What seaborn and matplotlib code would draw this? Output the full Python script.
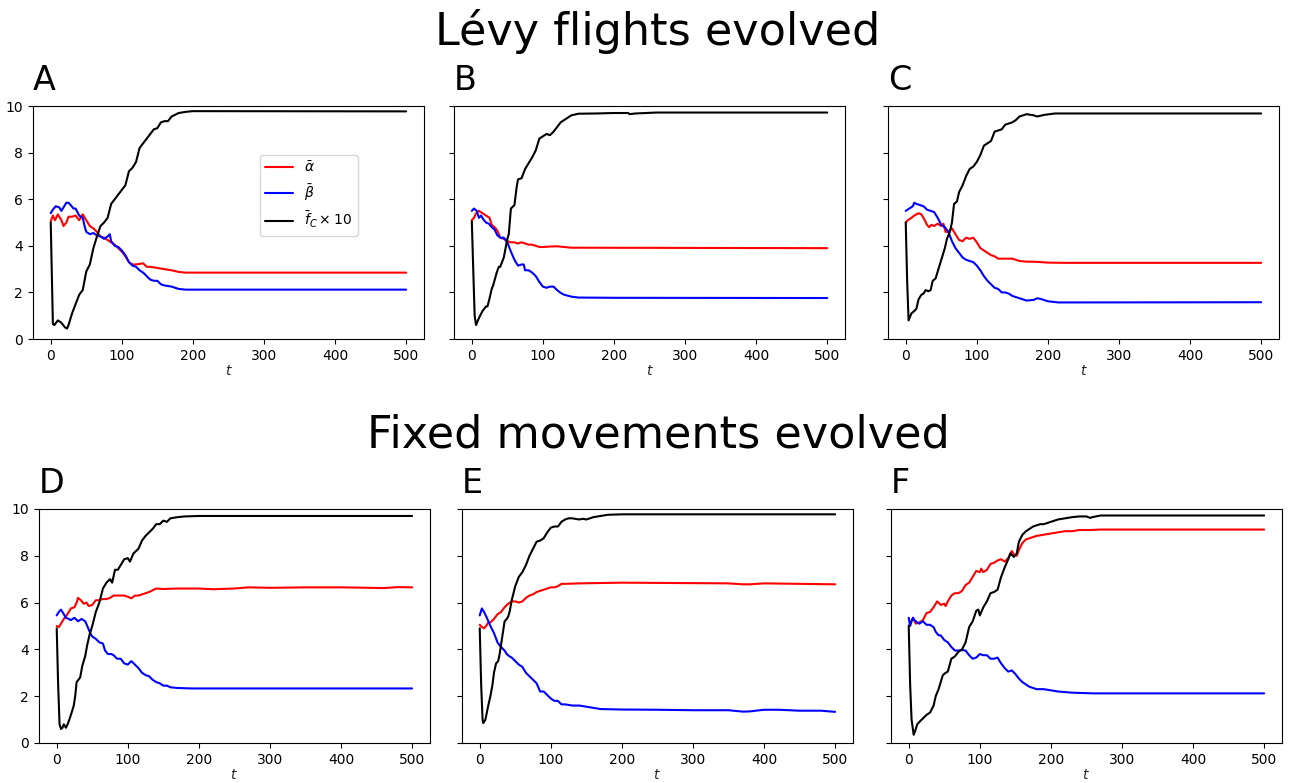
import matplotlib.pyplot as plt
import seaborn as sns

# ---- dados (t, valor) ----
# Painel A
A_alpha_t = [0, 3, 6, 10, 15, 18, 22, 25, 30, 35, 40, 45, 50, 55, 60, 65, 70, 75, 80, 85, 90, 95, 100, 105, 110, 115, 120, 130, 135, 140, 150, 160, 170, 180, 190, 500]
A_alpha = [5.05, 5.3, 5.1, 5.35, 5.1, 4.85, 5.0, 5.25, 5.25, 5.3, 5.1, 5.35, 5.1, 4.85, 4.75, 4.6, 4.4, 4.35, 4.25, 4.15, 4.05, 3.9, 3.75, 3.55, 3.3, 3.2, 3.2, 3.25, 3.1, 3.1, 3.05, 3.0, 2.95, 2.88, 2.85, 2.85]
A_beta_t = [0, 3, 7, 12, 15, 18, 22, 25, 28, 32, 35, 40, 45, 48, 50, 55, 60, 65, 70, 75, 80, 83, 85, 90, 95, 100, 105, 110, 115, 120, 125, 130, 135, 140, 145, 150, 155, 160, 170, 180, 190, 500]
A_beta = [5.4, 5.55, 5.7, 5.65, 5.5, 5.65, 5.85, 5.85, 5.75, 5.6, 5.6, 5.3, 5.2, 4.8, 4.6, 4.5, 4.55, 4.45, 4.4, 4.3, 4.4, 4.5, 4.2, 4.0, 3.95, 3.8, 3.6, 3.3, 3.15, 3.1, 2.95, 2.85, 2.7, 2.55, 2.5, 2.5, 2.35, 2.3, 2.25, 2.15, 2.12, 2.12]
A_fc_t = [0, 3, 5, 10, 15, 20, 23, 25, 30, 35, 40, 45, 50, 55, 60, 65, 70, 75, 80, 85, 90, 95, 100, 105, 110, 115, 120, 125, 130, 135, 140, 145, 150, 155, 160, 165, 170, 180, 190, 200, 500]
A_fc = [5.0, 0.65, 0.6, 0.8, 0.7, 0.5, 0.45, 0.6, 1.1, 1.5, 1.9, 2.1, 2.9, 3.2, 3.9, 4.4, 4.85, 5.0, 5.2, 5.8, 6.0, 6.2, 6.4, 6.6, 7.2, 7.35, 7.6, 8.2, 8.4, 8.6, 8.8, 9.0, 9.05, 9.3, 9.35, 9.35, 9.55, 9.7, 9.75, 9.78, 9.77]

# Painel B
B_alpha_t = [0, 3, 6, 10, 15, 20, 25, 28, 32, 36, 40, 45, 50, 55, 60, 65, 70, 75, 80, 85, 90, 95, 100, 110, 120, 130, 140, 500]
B_alpha = [5.1, 5.2, 5.4, 5.5, 5.4, 5.3, 5.2, 4.9, 4.8, 4.65, 4.35, 4.3, 4.2, 4.15, 4.15, 4.1, 4.15, 4.1, 4.05, 4.05, 4.0, 3.95, 3.95, 3.97, 3.98, 3.95, 3.92, 3.9]
B_beta_t = [0, 3, 7, 10, 13, 17, 20, 24, 28, 32, 36, 40, 45, 50, 55, 60, 65, 70, 73, 75, 80, 85, 90, 95, 100, 105, 110, 115, 120, 125, 130, 140, 150, 200, 500]
B_beta = [5.5, 5.6, 5.5, 5.2, 5.3, 5.1, 5.0, 4.95, 4.8, 4.7, 4.45, 4.35, 4.35, 4.15, 3.75, 3.4, 3.15, 3.2, 3.2, 2.95, 2.95, 2.85, 2.7, 2.45, 2.25, 2.2, 2.25, 2.25, 2.1, 1.98, 1.9, 1.82, 1.78, 1.77, 1.76]
B_fc_t = [0, 2, 4, 6, 10, 15, 20, 22, 25, 28, 30, 35, 38, 40, 45, 50, 52, 55, 60, 63, 65, 70, 75, 80, 85, 90, 95, 100, 105, 110, 115, 120, 125, 130, 140, 150, 175, 200, 220, 222, 230, 260, 500]
B_fc = [5.05, 3.0, 1.0, 0.6, 0.9, 1.2, 1.4, 1.4, 1.75, 2.15, 2.3, 2.85, 3.1, 3.1, 3.5, 4.3, 4.5, 5.6, 5.75, 6.5, 6.85, 6.9, 7.3, 7.55, 7.8, 8.1, 8.6, 8.7, 8.8, 8.75, 8.9, 9.1, 9.3, 9.4, 9.6, 9.67, 9.68, 9.7, 9.7, 9.65, 9.68, 9.72, 9.72]

# Painel C
C_alpha_t = [0, 3, 8, 12, 18, 22, 25, 30, 33, 36, 40, 45, 50, 53, 56, 60, 65, 70, 75, 80, 85, 90, 95, 100, 105, 110, 115, 120, 125, 130, 140, 150, 160, 170, 180, 200, 220, 500]
C_alpha = [5.0, 5.1, 5.2, 5.3, 5.4, 5.35, 5.2, 4.9, 4.8, 4.9, 4.85, 4.95, 4.85, 4.95, 4.6, 4.6, 4.75, 4.5, 4.25, 4.2, 4.35, 4.3, 4.35, 4.15, 3.9, 3.8, 3.7, 3.6, 3.55, 3.45, 3.45, 3.45, 3.35, 3.32, 3.32, 3.28, 3.27, 3.27]
C_beta_t = [0, 5, 10, 12, 15, 20, 25, 30, 35, 40, 45, 50, 55, 60, 65, 70, 75, 80, 85, 90, 95, 100, 105, 110, 115, 120, 125, 130, 135, 140, 145, 150, 160, 170, 180, 185, 190, 200, 215, 500]
C_beta = [5.5, 5.6, 5.7, 5.85, 5.8, 5.75, 5.7, 5.55, 5.5, 5.45, 5.2, 4.9, 4.8, 4.6, 4.2, 3.9, 3.7, 3.5, 3.4, 3.35, 3.3, 3.15, 2.95, 2.7, 2.5, 2.35, 2.2, 2.15, 2.0, 2.0, 1.95, 1.85, 1.75, 1.65, 1.68, 1.75, 1.72, 1.62, 1.57, 1.58]
C_fc_t = [0, 2, 4, 8, 12, 15, 18, 22, 25, 28, 32, 35, 38, 42, 45, 50, 55, 58, 62, 65, 68, 72, 75, 80, 85, 90, 95, 100, 105, 110, 115, 120, 125, 130, 135, 140, 145, 150, 155, 160, 170, 180, 185, 195, 210, 500]
C_fc = [5.0, 2.5, 0.8, 1.1, 1.2, 1.3, 1.7, 1.9, 1.95, 2.1, 2.05, 2.1, 2.5, 2.6, 2.9, 3.4, 3.9, 4.3, 4.6, 5.0, 5.8, 5.9, 6.3, 6.6, 7.0, 7.3, 7.4, 7.6, 7.9, 8.3, 8.4, 8.5, 8.9, 8.95, 9.0, 9.2, 9.25, 9.3, 9.4, 9.55, 9.65, 9.6, 9.55, 9.62, 9.68, 9.68]

# Painel D
D_alpha_t = [0, 3, 6, 10, 15, 20, 25, 28, 30, 34, 38, 42, 45, 50, 55, 60, 65, 70, 75, 80, 85, 90, 95, 100, 105, 110, 115, 120, 130, 140, 150, 170, 200, 220, 250, 270, 300, 350, 400, 460, 480, 500]
D_alpha = [5.0, 4.95, 5.1, 5.3, 5.5, 5.75, 5.8, 6.0, 6.2, 6.1, 5.95, 6.0, 5.85, 5.9, 6.1, 6.1, 6.15, 6.15, 6.2, 6.3, 6.3, 6.3, 6.3, 6.25, 6.18, 6.3, 6.3, 6.35, 6.45, 6.6, 6.58, 6.6, 6.6, 6.57, 6.6, 6.65, 6.63, 6.65, 6.65, 6.62, 6.66, 6.65]
D_beta_t = [0, 3, 6, 10, 13, 17, 20, 25, 30, 35, 40, 43, 47, 50, 55, 60, 65, 68, 72, 77, 80, 85, 90, 95, 100, 105, 110, 115, 120, 125, 130, 135, 140, 145, 150, 155, 160, 170, 190, 500]
D_beta = [5.45, 5.6, 5.7, 5.5, 5.35, 5.3, 5.25, 5.35, 5.2, 5.3, 5.2, 5.0, 4.7, 4.55, 4.45, 4.3, 4.25, 3.95, 3.8, 3.8, 3.75, 3.6, 3.6, 3.4, 3.35, 3.5, 3.35, 3.2, 3.0, 2.9, 2.85, 2.7, 2.6, 2.55, 2.45, 2.45, 2.38, 2.35, 2.33, 2.33]
D_fc_t = [0, 2, 4, 6, 8, 10, 13, 16, 20, 24, 26, 28, 33, 36, 40, 43, 46, 50, 55, 60, 65, 70, 75, 78, 82, 86, 90, 95, 100, 103, 108, 115, 120, 125, 130, 135, 140, 145, 150, 155, 160, 170, 180, 200, 500]
D_fc = [4.9, 2.5, 0.8, 0.6, 0.65, 0.8, 0.65, 0.85, 1.2, 1.6, 2.0, 2.6, 2.8, 3.3, 3.7, 4.2, 4.6, 5.0, 5.6, 6.0, 6.6, 6.85, 7.0, 6.85, 7.4, 7.4, 7.6, 7.85, 7.9, 7.75, 8.1, 8.3, 8.65, 8.85, 9.0, 9.15, 9.35, 9.35, 9.5, 9.45, 9.6, 9.65, 9.68, 9.7, 9.7]

# Painel E
E_alpha_t = [0, 3, 6, 9, 12, 15, 20, 25, 30, 35, 40, 45, 50, 55, 60, 65, 70, 75, 80, 85, 90, 95, 100, 105, 110, 115, 120, 140, 200, 250, 300, 350, 370, 380, 400, 450, 500]
E_alpha = [5.05, 4.95, 4.9, 5.0, 5.15, 5.15, 5.3, 5.5, 5.6, 5.8, 5.95, 6.05, 6.05, 6.0, 6.05, 6.2, 6.3, 6.35, 6.45, 6.5, 6.55, 6.6, 6.65, 6.65, 6.7, 6.8, 6.8, 6.82, 6.85, 6.84, 6.83, 6.82, 6.78, 6.78, 6.82, 6.8, 6.78]
E_beta_t = [0, 3, 6, 10, 15, 20, 25, 30, 35, 38, 42, 45, 50, 55, 60, 65, 70, 75, 80, 85, 90, 95, 100, 105, 110, 115, 120, 130, 140, 150, 170, 200, 250, 300, 350, 370, 380, 400, 420, 450, 480, 500]
E_beta = [5.45, 5.75, 5.6, 5.35, 5.0, 4.7, 4.3, 4.1, 3.95, 3.8, 3.7, 3.65, 3.5, 3.35, 3.25, 3.0, 2.85, 2.7, 2.55, 2.2, 2.2, 2.05, 1.9, 1.8, 1.8, 1.65, 1.65, 1.6, 1.6, 1.55, 1.45, 1.43, 1.42, 1.4, 1.4, 1.34, 1.35, 1.42, 1.42, 1.38, 1.38, 1.33]
E_fc_t = [0, 2, 4, 5, 8, 12, 15, 18, 20, 23, 26, 28, 32, 35, 38, 40, 42, 45, 50, 55, 60, 65, 70, 75, 80, 85, 90, 95, 100, 105, 110, 115, 120, 125, 130, 140, 145, 150, 160, 170, 180, 200, 500]
E_fc = [4.9, 2.5, 1.0, 0.85, 1.0, 1.6, 2.0, 2.5, 3.0, 3.4, 3.5, 3.8, 4.6, 5.2, 5.3, 5.4, 5.6, 6.1, 6.7, 7.1, 7.3, 7.6, 8.0, 8.3, 8.6, 8.65, 8.75, 9.0, 9.2, 9.25, 9.25, 9.45, 9.55, 9.6, 9.6, 9.55, 9.58, 9.55, 9.65, 9.7, 9.75, 9.77, 9.77]

# Painel F
F_alpha_t = [0, 3, 6, 10, 15, 20, 25, 30, 35, 40, 45, 50, 52, 55, 60, 65, 70, 75, 80, 85, 90, 95, 100, 102, 105, 110, 115, 120, 125, 130, 135, 140, 145, 148, 152, 155, 160, 165, 170, 180, 190, 200, 210, 220, 230, 240, 255, 270, 500]
F_alpha = [5.0, 5.15, 5.35, 5.1, 5.15, 5.25, 5.55, 5.6, 5.8, 6.05, 5.9, 5.95, 5.85, 6.05, 6.3, 6.4, 6.4, 6.5, 6.75, 6.85, 7.1, 7.35, 7.3, 7.45, 7.3, 7.4, 7.65, 7.7, 7.8, 7.85, 7.75, 7.9, 8.2, 8.05, 8.0, 8.25, 8.55, 8.7, 8.75, 8.85, 8.9, 8.95, 9.0, 9.05, 9.05, 9.1, 9.1, 9.12, 9.12]
F_beta_t = [0, 2, 4, 6, 8, 12, 15, 20, 25, 30, 35, 38, 42, 45, 50, 55, 60, 65, 70, 75, 80, 85, 90, 95, 100, 105, 110, 115, 120, 125, 130, 135, 140, 145, 150, 155, 160, 170, 180, 190, 200, 210, 230, 260, 500]
F_beta = [5.35, 5.0, 5.2, 5.35, 5.25, 5.15, 5.1, 5.2, 5.05, 5.05, 4.95, 4.75, 4.6, 4.6, 4.4, 4.3, 4.1, 3.95, 3.95, 3.97, 3.95, 3.75, 3.6, 3.65, 3.8, 3.75, 3.75, 3.6, 3.6, 3.65, 3.4, 3.2, 3.05, 3.1, 2.95, 2.75, 2.6, 2.4, 2.3, 2.3, 2.25, 2.2, 2.15, 2.12, 2.12]
F_fc_t = [0, 2, 4, 7, 10, 12, 15, 20, 25, 30, 35, 38, 42, 45, 48, 52, 55, 60, 65, 70, 75, 80, 85, 90, 95, 98, 100, 105, 110, 115, 120, 125, 130, 135, 140, 143, 148, 152, 155, 160, 165, 170, 175, 180, 185, 190, 200, 210, 220, 230, 240, 250, 255, 260, 270, 500]
F_fc = [5.0, 2.5, 1.0, 0.35, 0.6, 0.8, 0.9, 1.05, 1.2, 1.3, 1.6, 2.0, 2.3, 2.6, 2.9, 3.0, 3.05, 3.6, 3.7, 3.9, 4.0, 4.3, 4.95, 5.2, 5.65, 5.7, 5.45, 5.8, 6.05, 6.4, 6.45, 6.55, 7.1, 7.5, 7.85, 8.1, 7.95, 8.1, 8.6, 8.9, 9.05, 9.15, 9.25, 9.3, 9.35, 9.35, 9.45, 9.55, 9.6, 9.65, 9.68, 9.68, 9.62, 9.66, 9.72, 9.72]

paineis = ['A', 'B', 'C', 'D', 'E', 'F']
series = {
    'A': [(A_alpha_t, A_alpha), (A_beta_t, A_beta), (A_fc_t, A_fc)],
    'B': [(B_alpha_t, B_alpha), (B_beta_t, B_beta), (B_fc_t, B_fc)],
    'C': [(C_alpha_t, C_alpha), (C_beta_t, C_beta), (C_fc_t, C_fc)],
    'D': [(D_alpha_t, D_alpha), (D_beta_t, D_beta), (D_fc_t, D_fc)],
    'E': [(E_alpha_t, E_alpha), (E_beta_t, E_beta), (E_fc_t, E_fc)],
    'F': [(F_alpha_t, F_alpha), (F_beta_t, F_beta), (F_fc_t, F_fc)],
}
cores = ['red', 'blue', 'black']
rotulos = [r'$\bar{\alpha}$', r'$\bar{\beta}$', r'$\bar{f}_C \times 10$']

sns.set_style('ticks', {'axes.edgecolor': 'black', 'text.color': 'black',
                        'xtick.color': 'black', 'ytick.color': 'black'})
plt.rcParams['font.family'] = ['DejaVu Sans']
plt.rcParams['mathtext.fontset'] = 'dejavusans'

fig = plt.figure(figsize=(12.98, 7.83), dpi=100)

# posições dos eixos (left, bottom, width, height) em fração da figura
posicoes = {
    'A': [0.0254, 0.567, 0.3012, 0.2976],
    'B': [0.3498, 0.567, 0.3012, 0.2976],
    'C': [0.6841, 0.567, 0.3012, 0.2976],
    'D': [0.0300, 0.0511, 0.3012, 0.2989],
    'E': [0.3559, 0.0511, 0.3012, 0.2989],
    'F': [0.6864, 0.0511, 0.3012, 0.2989],
}

for p in paineis:
    ax = fig.add_axes(posicoes[p])
    for (tt, vv), cor, rot in zip(series[p], cores, rotulos):
        sns.lineplot(x=tt, y=vv, color=cor, ax=ax, linewidth=1.5,
                     label=rot if p == 'A' else None)
    ax.set_ylim(0, 10)
    ax.set_xlim(-25, 525)
    ax.set_xticks([0, 100, 200, 300, 400, 500])
    ax.set_yticks([0, 2, 4, 6, 8, 10])
    ax.set_xlabel('$t$', fontsize=10, labelpad=1)
    ax.set_ylabel('')
    if p not in ('A', 'D'):
        ax.set_yticklabels([])
    ax.tick_params(labelsize=10)
    ax.text(0.0, 1.07, p, transform=ax.transAxes, fontsize=24, va='baseline', ha='left')
    if p == 'A':
        ax.legend(loc='upper left', bbox_to_anchor=(0.562, 0.82), fontsize=10,
                  frameon=True, edgecolor='0.8', framealpha=0.8)
    elif ax.get_legend() is not None:
        ax.get_legend().remove()

fig.text(658 / 1298, 1 - 45 / 783, 'Lévy flights evolved', fontsize=32,
         ha='center', va='baseline')
fig.text(658 / 1298, 1 - 447 / 783, 'Fixed movements evolved', fontsize=32,
         ha='center', va='baseline')

fig.savefig('out.png', dpi=100)
